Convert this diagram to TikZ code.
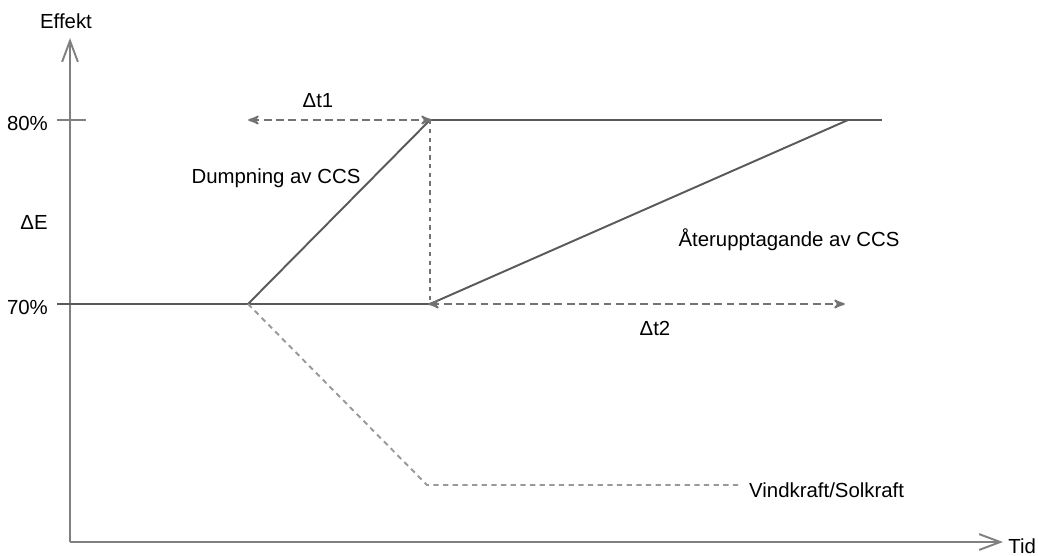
\documentclass[tikz,border=0pt]{standalone}
\usepackage{fontspec}
\setmainfont{Liberation Sans}
\usetikzlibrary{arrows,arrows.meta}
\usetikzlibrary{positioning}

\begin{document}
\begin{tikzpicture}[x=0.02cm,y=-0.02cm,>=stealth',font=\fontsize{11.6}{13}\selectfont,
        axis/.style={draw=black!50,line width=1.1pt},
        curve/.style={draw=black!65,line width=1.1pt},
        span/.style={draw=black!55,line width=1.1pt,dash pattern=on 4.5pt off 2.5pt,<->,shorten <=-1pt,shorten >=-1pt},
        guide/.style={draw=black!55,line width=1.1pt,dash pattern=on 2.5pt off 2.5pt},
        wind/.style={draw=black!40,line width=1.1pt,dash pattern=on 3pt off 2.5pt}]
		\useasboundingbox (0,0) rectangle (1038,555);
		% axes
		\coordinate (o) at (70,542);
		\coordinate (ytop) at (70,38);
		\coordinate (xend) at (1003,542);
		\draw [axis,-{Straight Barb[length=12pt,width=9pt]}] (o) to (ytop);
		\draw [axis,-{Straight Barb[length=12pt,width=9pt]}] (o) to (xend);
		\node (effekt) at (66,21) {Effekt};
		\node [anchor=west,inner sep=0pt] (tid) at (1008,546) {Tid};
		% levels
		\coordinate (t80a) at (57,120);
		\coordinate (t80b) at (86,120);
		\coordinate (t70) at (57,304);
		\draw [axis] (t80a) to (t80b);
		\node [anchor=east] (80) at (54,123) {80\%};
		\node [anchor=east] (70) at (54,307) {70\%};
		\node (de) at (34,222) {ΔE};
		% power curves
		\coordinate (s) at (248,304);
		\coordinate (p) at (430,120);
		\coordinate (q) at (430,304);
		\coordinate (r) at (848,120);
		\coordinate (e) at (882,120);
		\draw [curve] (t70) to (q);
		\draw [curve] (s) to (p);
		\draw [curve] (p) to (e);
		\draw [curve] (q) to (r);
		\draw [guide] (p) to (q);
		% time spans
		\coordinate (t1) at (250,120);
		\coordinate (t2) at (843,304);
		\draw [span] (t1) to (p);
		\draw [span] (q) to (t2);
		\node (dt1) at (318,101) {Δt1};
		\node (dt2) at (655,328) {Δt2};
		\node (dump) at (276,178) {Dumpning av CCS};
		\node (ater) at (789,240) {Återupptagande av CCS};
		% wind/solar
		\coordinate (w) at (427,485);
		\coordinate (wend) at (738,485);
		\draw [wind] (s) to (w) to (wend);
		\node [anchor=west] (vind) at (743,490) {Vindkraft/Solkraft};
\end{tikzpicture}
\end{document}
